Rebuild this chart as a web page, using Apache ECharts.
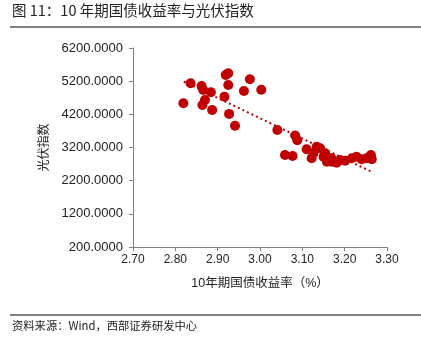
<!DOCTYPE html>
<html><head><meta charset="utf-8">
<script src="https://cdn.jsdelivr.net/npm/echarts@6/dist/echarts.min.js"></script>
<style>html,body{margin:0;padding:0;background:#fff}#c{width:421px;height:354px}</style>
</head><body><div id="c"></div>
<script>
var yieldValues = [2.819,2.836,2.862,2.866,2.884,2.870,2.864,2.887,2.916,2.919,2.925,2.925,2.927,2.941,2.962,2.976,3.003,
  3.041,3.083,3.088,3.059,3.077,3.110,3.134,3.142,3.126,3.122,3.150,3.158,3.169,3.154,3.169,3.189,3.201,3.217,3.228,3.240,3.252,3.262,3.264,3.181];
var pvIndex = [4533,5135,5054,4934,4864,4632,4481,4331,4731,5386,5437,5084,4213,3857,4903,5256,4943,
  3728,3560,3420,2974,2944,3146,3224,3176,3025,2874,2923,2772,2772,3025,2874,2823,2802,2874,2923,2844,2874,2974,2844,2742];
var trendX = [2.820, 3.265];
var trendY = [5184, 2461];
var xTicks = ['2.70','2.80','2.90','3.00','3.10','3.20','3.30'];
var yTicks = ['200.0000','1200.0000','2200.0000','3200.0000','4200.0000','5200.0000','6200.0000'];

var pts = yieldValues.map(function(v,i){return [v,pvIndex[i]];});
var trend = trendX.map(function(v,i){return [v,trendY[i]];});
var red = '#C00000';
var font = '"Liberation Sans", Arial, "Noto Sans CJK SC", sans-serif';
var chart = echarts.init(document.getElementById('c'));
chart.setOption({
  animation:false,
  textStyle:{fontFamily:font},
  grid:{left:133,right:34,top:48,bottom:107,containLabel:false},
  xAxis:{type:'value',min:2.7,max:3.3,interval:0.1,
    name:'10年期国债收益率（%）',nameLocation:'middle',nameGap:30,
    nameTextStyle:{fontSize:12.5,color:'#222',fontFamily:font},
    axisLine:{show:true,onZero:false,lineStyle:{color:'#808080',width:1}},
    axisTick:{show:true,length:4,lineStyle:{color:'#808080'}},
    splitLine:{show:false},
    axisLabel:{fontSize:12,color:'#222',margin:7,formatter:function(v){var s=v.toFixed(2);return xTicks.indexOf(s)>=0?s:'';}}},
  yAxis:{type:'value',min:200,max:6200,interval:1000,
    name:'光伏指数',nameLocation:'middle',nameGap:78,nameRotate:90,
    nameTextStyle:{fontSize:12,color:'#222',fontFamily:font},
    axisLine:{show:true,onZero:false,lineStyle:{color:'#808080',width:1}},
    axisTick:{show:true,length:4,lineStyle:{color:'#808080'}},
    splitLine:{show:false},
    axisLabel:{fontSize:13,color:'#222',margin:10,formatter:function(v){var s=v.toFixed(4);return yTicks.indexOf(s)>=0?s:'';}}},
  series:[
    {type:'line',data:trend,symbol:'none',silent:true,z:1,
      lineStyle:{color:red,width:2,type:[2,3]}},
    {type:'scatter',data:pts,symbol:'circle',symbolSize:10,z:2,
      itemStyle:{color:red,opacity:1}}
  ],
  graphic:[
    {type:'text',left:12,top:3,style:{text:'图 11：10 年期国债收益率与光伏指数',font:'14.5px "Noto Sans CJK SC", sans-serif',fill:'#222'}},
    {type:'rect',shape:{x:10,y:26,width:411,height:2},style:{fill:'#808080'}},
    {type:'rect',shape:{x:10,y:314,width:411,height:2},style:{fill:'#808080'}},
    {type:'text',left:12,top:320,style:{text:'资料来源：Wind，西部证券研发中心',font:'11.3px "Noto Sans CJK SC", sans-serif',fill:'#222'}}
  ]
});
</script></body></html>
